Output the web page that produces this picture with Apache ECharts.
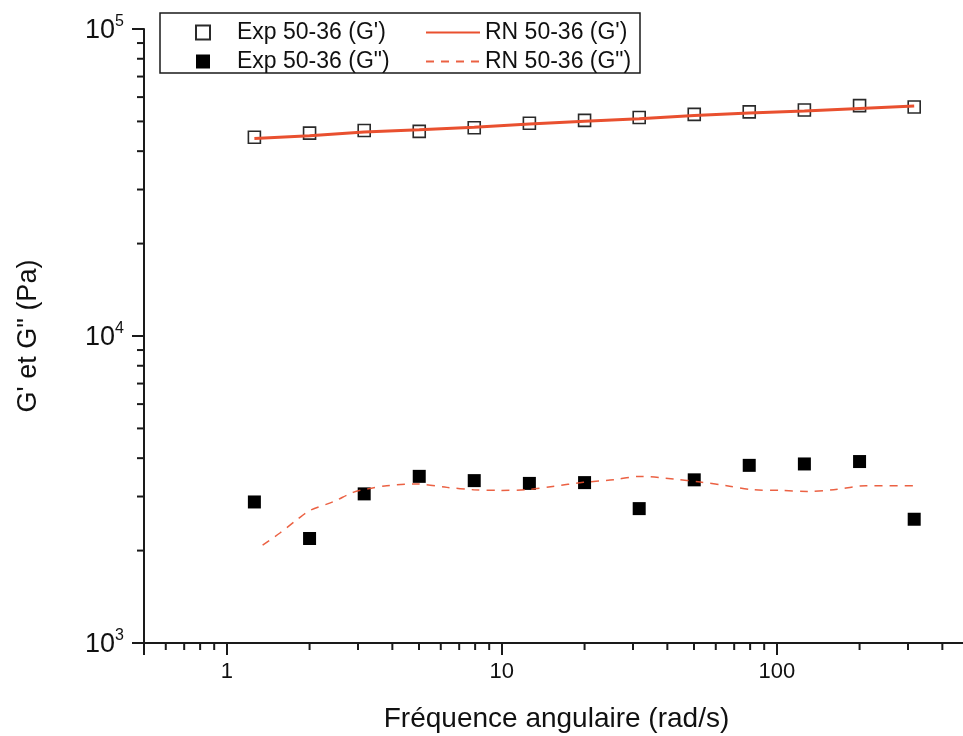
<!DOCTYPE html>
<html>
<head>
<meta charset="utf-8">
<script src="https://cdn.jsdelivr.net/npm/echarts@6/dist/echarts.min.js"></script>
<style>
html,body{margin:0;padding:0;background:#fff;}
#chart{width:963px;height:736px;}
</style>
</head>
<body>
<div id="chart"></div>
<script>
// ---- data ----
const freq = [1.26, 2.0, 3.16, 5.01, 7.94, 12.6, 20.0, 31.6, 50.1, 79.4, 126, 200, 316];
const expGPrime = [44400, 45800, 46700, 46400, 47700, 49300, 50400, 51500, 52700, 53700, 54500, 56300, 55700];
const expGDouble = [2880, 2190, 3060, 3490, 3380, 3310, 3330, 2740, 3400, 3790, 3830, 3900, 2530];
const rnGPrime = [44000, 44900, 46200, 47000, 47900, 49000, 50100, 51000, 52300, 53300, 54100, 55100, 56100];
const rnFreq = [1.35, 1.56, 1.8, 2.01, 2.44, 2.88, 3.23, 3.82, 4.91, 6.32, 7.88, 9.85, 12.3, 15.3, 19.8, 25.5, 31.8, 42.1, 52.7, 65.8, 82.0, 103, 129, 161, 211, 313];
const rnGDouble = [2085, 2282, 2521, 2704, 2886, 3094, 3174, 3254, 3296, 3213, 3157, 3141, 3157, 3237, 3336, 3404, 3489, 3422, 3345, 3254, 3157, 3141, 3117, 3157, 3254, 3254];

const xMajorTicks = [1, 10, 100];
const xTickLabels = ['1', '10', '100'];
const xMinorTicks = [0.6, 0.7, 0.8, 0.9, 2, 3, 4, 5, 6, 7, 8, 9, 20, 30, 40, 50, 60, 70, 80, 90, 200, 300, 400];
const yMajorTicks = [1000, 10000, 100000];
const yTickExponents = ['3', '4', '5'];
const yMinorTicks = [2000, 3000, 4000, 5000, 6000, 7000, 8000, 9000, 20000, 30000, 40000, 50000, 60000, 70000, 80000, 90000];

const seriesNames = ["Exp 50-36 (G')", 'Exp 50-36 (G")', "RN 50-36 (G')", 'RN 50-36 (G")'];
const xTitle = 'Fréquence angulaire (rad/s)';
const yTitle = 'G\' et G" (Pa)';

const X_MIN = 0.5, X_MAX = 500, Y_MIN = 1000, Y_MAX = 100000;
const RED = '#E9502F';
const AXIS = '#1a1a1a';
const FONT = 'Liberation Sans, Arial, sans-serif';

const pairs = (xs, ys) => xs.map((x, i) => [x, ys[i]]);

const chart = echarts.init(document.getElementById('chart'), null, {renderer: 'canvas'});

chart.setOption({
  animation: false,
  backgroundColor: '#ffffff',
  grid: {left: 144, top: 29, bottom: 93, width: 825, containLabel: false, outerBoundsMode: 'none'},
  xAxis: {
    type: 'log', logBase: 10, min: X_MIN, max: X_MAX,
    axisLine: {show: true, onZero: false, lineStyle: {color: AXIS, width: 2}},
    axisTick: {show: true, inside: false, length: 12, lineStyle: {color: AXIS, width: 2}},
    splitLine: {show: false},
    axisLabel: {
      margin: 18, color: '#111', fontSize: 22, fontFamily: FONT,
      formatter: function (v) {
        for (let i = 0; i < xMajorTicks.length; i++) {
          if (Math.abs(v - xMajorTicks[i]) < 1e-6 * xMajorTicks[i]) return xTickLabels[i];
        }
        return '';
      }
    },
    name: xTitle, nameLocation: 'middle', nameGap: 62,
    nameTextStyle: {color: '#111', fontSize: 28, fontFamily: FONT}
  },
  yAxis: {
    type: 'log', logBase: 10, min: Y_MIN, max: Y_MAX,
    axisLine: {show: true, onZero: false, lineStyle: {color: AXIS, width: 2}},
    axisTick: {show: true, inside: false, length: 12, lineStyle: {color: AXIS, width: 2}},
    splitLine: {show: false},
    axisLabel: {
      margin: 20, color: '#111', fontFamily: FONT,
      formatter: function (v) {
        for (let i = 0; i < yMajorTicks.length; i++) {
          if (Math.abs(v - yMajorTicks[i]) < 1e-6 * yMajorTicks[i]) return '{b|10}{s|' + yTickExponents[i] + '}';
        }
        return '';
      },
      rich: {
        b: {fontSize: 27, fontFamily: FONT, color: '#111', lineHeight: 30, verticalAlign: 'bottom'},
        s: {fontSize: 16, fontFamily: FONT, color: '#111', lineHeight: 16, verticalAlign: 'top'}
      }
    },
    name: yTitle, nameLocation: 'middle', nameGap: 102,
    nameTextStyle: {color: '#111', fontSize: 27, fontFamily: FONT}
  },
  legend: [
    {
      data: [seriesNames[0], seriesNames[1]],
      orient: 'vertical', left: 190, top: 16, itemGap: 6,
      itemWidth: 14, itemHeight: 14,
      textStyle: {color: '#111', fontSize: 23, fontFamily: FONT, padding: [0, 0, 0, 22]},
      selectedMode: false
    },
    {
      data: [seriesNames[2], seriesNames[3]],
      orient: 'vertical', left: 420, top: 16, itemGap: 6,
      itemWidth: 54, itemHeight: 14,
      itemStyle: {opacity: 0},
      textStyle: {color: '#111', fontSize: 23, fontFamily: FONT},
      selectedMode: false
    }
  ],
  graphic: [{
    type: 'rect', z: 0, silent: true,
    shape: {x: 160, y: 13, width: 480, height: 60},
    style: {fill: 'none', stroke: AXIS, lineWidth: 1.5}
  }],
  series: [
    {
      name: seriesNames[0], type: 'scatter', z: 2,
      symbol: 'rect', symbolSize: 12,
      itemStyle: {color: '#ffffff', borderColor: '#2a2a2a', borderWidth: 1.6, opacity: 1},
      data: pairs(freq, expGPrime)
    },
    {
      name: seriesNames[1], type: 'scatter', z: 2,
      symbol: 'rect', symbolSize: 13,
      itemStyle: {color: '#000000', borderColor: '#000000', borderWidth: 0, opacity: 1},
      data: pairs(freq, expGDouble)
    },
    {
      name: seriesNames[2], type: 'line', z: 4,
      symbol: 'none', showSymbol: false,
      lineStyle: {color: RED, width: 3},
      itemStyle: {color: RED},
      data: pairs(freq, rnGPrime)
    },
    {
      name: seriesNames[3], type: 'line', z: 4, smooth: 0.3,
      symbol: 'none', showSymbol: false,
      lineStyle: {color: RED, width: 1.5, type: [8, 7], opacity: 0.9},
      itemStyle: {color: RED},
      data: pairs(rnFreq, rnGDouble)
    },
    {
      name: 'xMinor', type: 'custom', silent: true, clip: false, z: 5,
      renderItem: function (params, api) {
        const p = api.coord([api.value(0), Y_MIN]);
        return {type: 'line', shape: {x1: p[0], y1: p[1], x2: p[0], y2: p[1] + 7},
                style: {stroke: AXIS, lineWidth: 2}};
      },
      data: xMinorTicks.map(v => [v, Y_MIN])
    },
    {
      name: 'yMinor', type: 'custom', silent: true, clip: false, z: 5,
      renderItem: function (params, api) {
        const p = api.coord([X_MIN, api.value(1)]);
        return {type: 'line', shape: {x1: p[0], y1: p[1], x2: p[0] - 7, y2: p[1]},
                style: {stroke: AXIS, lineWidth: 2}};
      },
      data: yMinorTicks.map(v => [X_MIN, v])
    }
  ]
});
</script>
</body>
</html>
